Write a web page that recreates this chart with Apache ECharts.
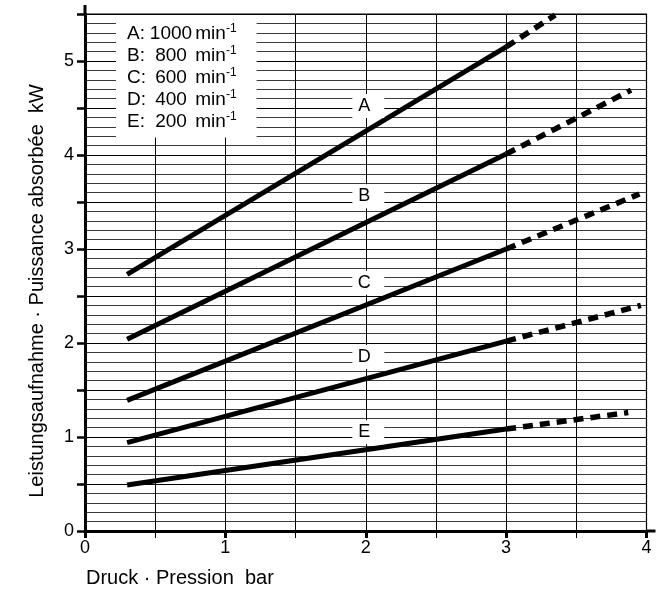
<!DOCTYPE html>
<html><head><meta charset="utf-8">
<script src="https://cdn.jsdelivr.net/npm/echarts@6.0.0/dist/echarts.min.js"></script>
<style>html,body{margin:0;padding:0;background:#fff}#c{width:661px;height:595px}</style>
</head><body><div id="c"></div>
<script>
// ---- data ----
const curveNames = ['A', 'B', 'C', 'D', 'E'];
const speedLabels = ['1000', '800', '600', '400', '200'];
const solidPressure = [0.3, 3.0];
const solidPowerA = [2.73, 5.15];
const solidPowerB = [2.04, 4.01];
const solidPowerC = [1.39, 3.00];
const solidPowerD = [0.94, 2.02];
const solidPowerE = [0.49, 1.085];
const extPressureA = [3.0, 3.35];
const extPressureB = [3.0, 3.89];
const extPressureC = [3.0, 3.95];
const extPressureD = [3.0, 3.96];
const extPressureE = [3.0, 3.87];
const extPowerA = [5.15, 5.49];
const extPowerB = [4.01, 4.69];
const extPowerC = [3.00, 3.585];
const extPowerD = [2.02, 2.40];
const extPowerE = [1.085, 1.26];
const labelPressure = [1.99, 1.99, 1.99, 1.99, 1.99];
const labelPower = [4.52, 3.56, 2.64, 1.85, 1.05];
const xTickLabels = [0, 1, 2, 3, 4];
const yTickLabels = [0, 1, 2, 3, 4, 5];

const FONT = '"Liberation Sans", Arial, Helvetica, sans-serif';
const solidPowers = [solidPowerA, solidPowerB, solidPowerC, solidPowerD, solidPowerE];
const extPressures = [extPressureA, extPressureB, extPressureC, extPressureD, extPressureE];
const extPowers = [extPowerA, extPowerB, extPowerC, extPowerD, extPowerE];
const zip = (a, b) => a.map((v, i) => [v, b[i]]);

const series = [];
curveNames.forEach((n, i) => {
  series.push({
    type: 'line', name: n, data: zip(solidPressure, solidPowers[i]),
    symbol: 'none', z: 3,
    lineStyle: { color: '#000', width: 5, cap: 'butt' }
  });
  series.push({
    type: 'line', name: n + '-ext', data: zip(extPressures[i], extPowers[i]),
    symbol: 'none', z: 3,
    lineStyle: { color: '#000', width: 5.5, type: [10, 7], cap: 'butt' }
  });
});
series.push({
  type: 'scatter', name: 'labels', z: 4,
  data: curveNames.map((n, i) => ({ name: n, value: [labelPressure[i], labelPower[i]] })),
  symbol: 'rect', symbolSize: [32, 24], symbolOffset: [4, 0],
  itemStyle: { color: '#fff', opacity: 1 },
  emphasis: { disabled: true },
  label: { show: true, position: 'inside', offset: [-4, 0], formatter: p => p.name, color: '#000', opacity: 1, fontSize: 18, fontWeight: 'normal', fontFamily: FONT }
});

const legendText = curveNames.map((n, i) =>
  `{k|${n}:}{n|${speedLabels[i]}}{u| min}{s|-1}`).join('\n');

const fmtInt = list => v => (list.some(t => Math.abs(t - v) < 1e-9) ? String(Math.round(v)) : '');

const chart = echarts.init(document.getElementById('c'), null, { renderer: 'canvas' });
const legendTok = { fontSize: 19, fontFamily: FONT, fontWeight: 'normal', color: '#000', lineHeight: 22 };
chart.setOption({
  animation: false,
  grid: { left: 85, right: 14.5, top: 14, bottom: 64, show: true, borderColor: '#000', borderWidth: 1.2 },
  title: [{
    text: legendText, left: 116, top: 15, backgroundColor: '#fff', padding: [8, 20, 6, 11],
    textStyle: {
      fontWeight: 'normal', fontSize: 19, fontFamily: FONT, color: '#000',
      rich: {
        k: Object.assign({}, legendTok, { width: 25 }),
        n: Object.assign({}, legendTok, { width: 38, align: 'right' }),
        u: Object.assign({}, legendTok),
        s: { fontSize: 12, fontFamily: FONT, fontWeight: 'normal', color: '#000', verticalAlign: 'top', lineHeight: 14 }
      }
    }
  }],
  xAxis: [{
    type: 'value', min: 0, max: 4, interval: 0.5,
    axisLine: { show: true, onZero: false, lineStyle: { color: '#000', width: 3 } },
    axisTick: { show: true, length: 7, lineStyle: { color: '#000', width: 1 } },
    axisLabel: { formatter: fmtInt(xTickLabels), fontSize: 18, color: '#000', margin: 8, fontFamily: FONT },
    splitLine: { show: true, lineStyle: { color: '#000', width: 1 } }
  }, {
    type: 'value', min: 0, max: 4, interval: 1, position: 'bottom',
    axisLine: { show: false, onZero: false },
    axisTick: { show: true, length: 7, lineStyle: { color: '#000', width: 3 } },
    axisLabel: { show: false }, splitLine: { show: false }
  }],
  yAxis: {
    type: 'value', min: 0, max: 5.5, interval: 0.5,
    axisLine: { show: true, onZero: false, lineStyle: { color: '#000', width: 3 } },
    axisTick: { show: true, length: 8, lineStyle: { color: '#000', width: 2.5 } },
    axisLabel: { formatter: fmtInt(yTickLabels), fontSize: 18, color: '#000', margin: 11, fontFamily: FONT },
    splitLine: { show: true, lineStyle: { color: '#000', width: 1 } },
    minorTick: { show: false, splitNumber: 5 },
    minorSplitLine: { show: true, lineStyle: { color: '#3a3a3a', width: 1 } }
  },
  series: series
});

const pTop = chart.convertToPixel({ gridIndex: 0 }, [0, 5.5]);
const pRight = chart.convertToPixel({ gridIndex: 0 }, [4, 0]);
chart.setOption({
  graphic: [
    { type: 'line', shape: { x1: pTop[0], y1: pTop[1] - 9, x2: pTop[0], y2: pTop[1] }, style: { stroke: '#000', lineWidth: 3 }, z: 10 },
    { type: 'line', shape: { x1: pRight[0], y1: pRight[1], x2: pRight[0] + 9, y2: pRight[1] }, style: { stroke: '#000', lineWidth: 3 }, z: 10 },
    { type: 'text', x: 86, y: 578, style: { text: 'Druck · Pression  bar', fontSize: 20, fontFamily: FONT, fill: '#000', textAlign: 'left', textVerticalAlign: 'middle' } },
    { type: 'text', x: 37, y: 291, rotation: Math.PI / 2, style: { text: 'Leistungsaufnahme · Puissance absorbée  kW', fontSize: 20, fontFamily: FONT, fill: '#000', textAlign: 'center', textVerticalAlign: 'middle' } }
  ]
});
</script></body></html>
